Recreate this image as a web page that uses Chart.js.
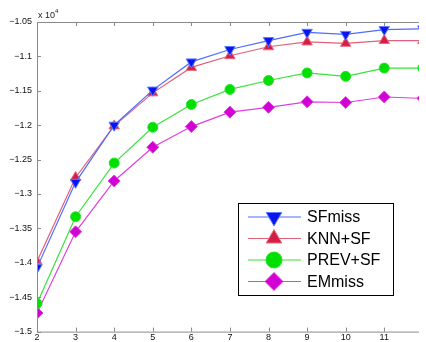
<!DOCTYPE html>
<html>
<head>
<meta charset="utf-8">
<script src="https://cdn.jsdelivr.net/npm/chart.js@4.4.1/dist/chart.umd.min.js"></script>
<style>
  html, body { margin: 0; padding: 0; background: #ffffff; }
  #wrap { width: 426px; height: 342px; }
</style>
</head>
<body>
<div id="wrap"><canvas id="chartjs-0" width="426" height="342"></canvas></div>
<script>
// values in units of 10^4 (axis shows "x 10^4")
let xValues = [2, 3, 4, 5, 6, 7, 8, 9, 10, 11, 12];
let sfMiss  = [-1.407, -1.283, -1.200, -1.149, -1.108, -1.090, -1.077, -1.065, -1.068, -1.061, -1.060];
let knnSF   = [-1.398, -1.276, -1.201, -1.153, -1.116, -1.099, -1.086, -1.079, -1.081, -1.077, -1.077];
let prevSF  = [-1.459, -1.333, -1.255, -1.203, -1.170, -1.148, -1.135, -1.124, -1.129, -1.117, -1.117];
let emMiss  = [-1.473, -1.355, -1.281, -1.232, -1.202, -1.181, -1.174, -1.166, -1.167, -1.159, -1.161];
let seriesNames = ["SFmiss", "KNN+SF", "PREV+SF", "EMmiss"];
let yTicks = [-1.5, -1.45, -1.4, -1.35, -1.3, -1.25, -1.2, -1.15, -1.1, -1.05];

function toPoints(arr){
    let pts = [];
    for (let i = 0; i < arr.length; i++) {
        pts.push({x: xValues[i], y: arr[i]});
    }
    return pts;
}

let styles = [
    {line: "#4f6cff", fill: "#0a14f0", edge: "#5b7bff", shape: "triangle", rot: 180, r: 6},
    {line: "#e0607a", fill: "#d41e44", edge: "#e86a80", shape: "triangle", rot: 0, r: 6},
    {line: "#3be23b", fill: "#00e000", edge: "#30e030", shape: "circle", rot: 0, r: 5},
    {line: "#de40de", fill: "#d200d2", edge: "#de40de", shape: "rectRot", rot: 0, r: 6}
];
let allSeries = [sfMiss, knnSF, prevSF, emMiss];

let datasets = [];
for (let i = 0; i < allSeries.length; i++) {
    datasets.push({
        label: seriesNames[i],
        data: toPoints(allSeries[i]),
        borderColor: styles[i].line,
        borderWidth: 1.2,
        backgroundColor: styles[i].fill,
        pointBackgroundColor: styles[i].fill,
        pointBorderColor: styles[i].edge,
        pointBorderWidth: 1,
        pointStyle: styles[i].shape,
        pointRotation: styles[i].rot,
        pointRadius: styles[i].r,
        fill: false,
        tension: 0
    });
}

// box, inward ticks, multiplier and legend, MATLAB style
const matlabAxes = {
    id: "matlabAxes",
    afterDatasetsDraw(chart){
        const ctx = chart.ctx;
        const a = chart.chartArea;
        const xs = chart.scales.x, ys = chart.scales.y;
        ctx.save();
        ctx.strokeStyle = "#8a8a8a";
        ctx.lineWidth = 1;
        ctx.beginPath();
        ctx.moveTo(a.left + 0.5, a.bottom + 0.5);
        ctx.lineTo(a.left + 0.5, a.top + 0.5);
        ctx.lineTo(a.right, a.top + 0.5);
        ctx.moveTo(a.left, a.bottom + 0.5);
        ctx.lineTo(a.right, a.bottom + 0.5);
        for (let v = 2; v <= 11; v++) {
            let px = Math.round(xs.getPixelForValue(v)) + 0.5;
            ctx.moveTo(px, a.bottom); ctx.lineTo(px, a.bottom - 4);
            ctx.moveTo(px, a.top); ctx.lineTo(px, a.top + 4);
        }
        for (let t of yTicks) {
            let py = Math.round(ys.getPixelForValue(t)) + 0.5;
            ctx.moveTo(a.left, py); ctx.lineTo(a.left + 4, py);
        }
        ctx.stroke();

        // x 10^4
        ctx.fillStyle = "#222";
        ctx.font = "9px 'Liberation Sans', Arial, sans-serif";
        ctx.textBaseline = "alphabetic";
        ctx.textAlign = "left";
        ctx.fillText("x 10", a.left + 1, a.top - 4);
        ctx.font = "6px 'Liberation Sans', Arial, sans-serif";
        ctx.fillText("4", a.left + 18, a.top - 9);

        // legend box
        const bx = 238, by = 203, bw = 155, bh = 92;
        ctx.fillStyle = "#ffffff";
        ctx.fillRect(bx, by, bw, bh);
        ctx.strokeStyle = "#000000";
        ctx.lineWidth = 1;
        ctx.strokeRect(bx + 0.5, by + 0.5, bw, bh);
        ctx.font = "16px 'Liberation Sans', Arial, sans-serif";
        ctx.textBaseline = "middle";
        for (let i = 0; i < datasets.length; i++) {
            let ly = by + 14 + i * 21.5;
            ctx.strokeStyle = styles[i].line;
            ctx.lineWidth = 1.2;
            ctx.beginPath();
            ctx.moveTo(248, ly); ctx.lineTo(301, ly);
            ctx.stroke();
            ctx.fillStyle = styles[i].fill;
            ctx.strokeStyle = styles[i].edge;
            ctx.lineWidth = 1;
            Chart.helpers.drawPoint(ctx, {
                pointStyle: styles[i].shape,
                rotation: styles[i].rot,
                radius: styles[i].r + 3,
                borderWidth: 1
            }, 274, ly);
            ctx.fillStyle = "#000";
            ctx.fillText(datasets[i].label, 307, ly + 1);
        }
        ctx.restore();
    }
};

var ctx = document.getElementById("chartjs-0");
let myChart = new Chart(ctx, {
    "type": "line",
    "data": { "datasets": datasets },
    "options": {
        responsive: false,
        animation: false,
        layout: { padding: { top: 22, right: 0, left: 0, bottom: 0 } },
        plugins: { legend: { display: false }, tooltip: { enabled: false } },
        scales: {
            x: {
                type: "linear",
                min: 2,
                max: 11.9,
                grid: { display: false, drawTicks: false },
                border: { display: false },
                afterFit: function(scale){ scale.height = 10; },
                afterBuildTicks: function(scale){
                    scale.ticks = xValues.slice(0, 10).map(function(v){ return {value: v}; });
                },
                ticks: {
                    padding: 1,
                    color: "#111",
                    font: { family: "'Liberation Sans', Arial, sans-serif", size: 9 },
                    maxRotation: 0,
                    autoSkip: false
                }
            },
            y: {
                type: "linear",
                min: -1.5,
                max: -1.05,
                grid: { display: false, drawTicks: false },
                border: { display: false },
                afterFit: function(scale){ scale.width = 37; },
                afterBuildTicks: function(scale){
                    scale.ticks = yTicks.map(function(v){ return {value: v}; });
                },
                ticks: {
                    padding: 5,
                    color: "#111",
                    font: { family: "'Liberation Sans', Arial, sans-serif", size: 9 },
                    callback: function(v){ return "\u2212" + String(Math.abs(Math.round(v * 100) / 100)); }
                }
            }
        }
    },
    plugins: [matlabAxes]
});
</script>
</body>
</html>
